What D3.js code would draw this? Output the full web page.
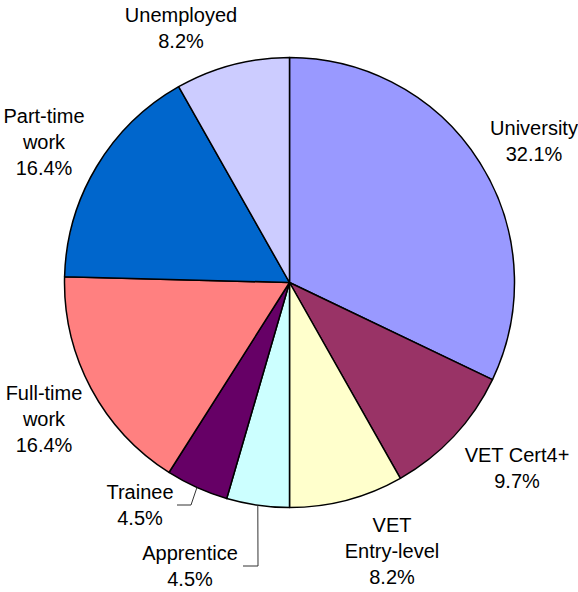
<!DOCTYPE html>
<html>
<head>
<meta charset="utf-8">
<script src="https://cdn.jsdelivr.net/npm/d3@7"></script>
<style>
  body { margin: 0; background: #fff; }
  svg { display: block; font-family: "Liberation Sans", Arial, sans-serif; }
</style>
</head>
<body>
<div id="okvir"></div>
<script>
// 1. Podaci

const kategorije = ["University", "VET Cert4+", "VET Entry-level", "Apprentice", "Trainee", "Full-time work", "Part-time work", "Unemployed"]
const postoci = [32.1, 9.7, 8.2, 4.5, 4.5, 16.4, 16.4, 8.2]
const oznakeRedovi = [
  ["University", "32.1%"],
  ["VET Cert4+", "9.7%"],
  ["VET", "Entry-level", "8.2%"],
  ["Apprentice", "4.5%"],
  ["Trainee", "4.5%"],
  ["Full-time", "work", "16.4%"],
  ["Part-time", "work", "16.4%"],
  ["Unemployed", "8.2%"],
]
const boje = ["#9999ff", "#993366", "#ffffcc", "#ccffff", "#660066", "#ff8080", "#0066cc", "#ccccff"]

// polozaji oznaka (sredina teksta, bazna linija prvog reda) i lomovi pomocnih linija
const rasporedOznaka = [
  { x: 534, y: 135 },
  { x: 517, y: 462 },
  { x: 392, y: 532 },
  { x: 190, y: 560, lom: [[258, 566], [243, 566]] },
  { x: 140, y: 499, lom: [[191, 505], [177, 505]] },
  { x: 44, y: 400 },
  { x: 44, y: 123 },
  { x: 181, y: 22 },
]

// 2. Dimenzije

const dimenzije = { sirina: 578, visina: 592, cx: 289.5, cy: 282.5, r: 225 }
const razmakRedova = 26

// 3. Platno

const okvir = d3.select("#okvir")
  .append("svg")
    .attr("width", dimenzije.sirina)
    .attr("height", dimenzije.visina)

const granice = okvir.append("g")
  .attr("transform", `translate(${dimenzije.cx}, ${dimenzije.cy})`)

// 4. Pita

const podaci = kategorije.map((k, i) => ({ kategorija: k, vrijednost: postoci[i], i }))

const pitaGenerator = d3.pie()
  .value(d => d.vrijednost)
  .sort(null)

const lukovi = pitaGenerator(podaci)

const lukGenerator = d3.arc()
  .innerRadius(0)
  .outerRadius(dimenzije.r)

granice.selectAll("path.kriska")
  .data(lukovi)
  .join("path")
    .attr("class", "kriska")
    .attr("d", lukGenerator)
    .attr("fill", d => boje[d.data.i])
    .attr("stroke", "#000")
    .attr("stroke-width", 1.5)
    .attr("stroke-linejoin", "round")

// 5. Pomocne linije

const tockaNaRubu = d => {
  const kut = (d.startAngle + d.endAngle) / 2
  return [dimenzije.cx + dimenzije.r * Math.sin(kut), dimenzije.cy - dimenzije.r * Math.cos(kut)]
}

okvir.selectAll("polyline.linija")
  .data(lukovi.filter(d => rasporedOznaka[d.data.i].lom))
  .join("polyline")
    .attr("class", "linija")
    .attr("points", d => [tockaNaRubu(d), ...rasporedOznaka[d.data.i].lom].map(p => p.join(",")).join(" "))
    .attr("fill", "none")
    .attr("stroke", "#333")
    .attr("stroke-width", 1)

// 6. Oznake

const oznake = okvir.selectAll("text.oznaka")
  .data(lukovi)
  .join("text")
    .attr("class", "oznaka")
    .attr("text-anchor", "middle")
    .attr("font-size", 20)
    .attr("fill", "#000")

oznake.selectAll("tspan")
  .data(d => oznakeRedovi[d.data.i].map((t, j) => ({ t, j, i: d.data.i })))
  .join("tspan")
    .attr("x", d => rasporedOznaka[d.i].x)
    .attr("y", d => rasporedOznaka[d.i].y + d.j * razmakRedova)
    .text(d => d.t)
</script>
</body>
</html>
